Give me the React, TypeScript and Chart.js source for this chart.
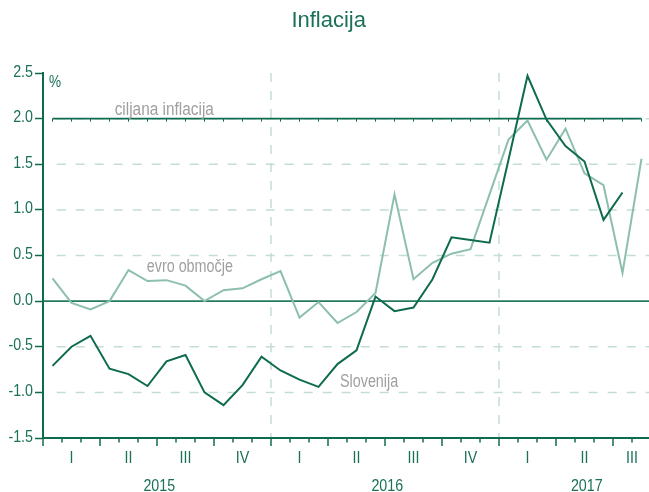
import React, { useEffect, useRef } from "react";
import { Chart, registerables } from "chart.js";

Chart.register(...registerables);

// ---- data ----
const months = [
  "1/15", "2/15", "3/15", "4/15", "5/15", "6/15", "7/15", "8/15", "9/15", "10/15", "11/15", "12/15",
  "1/16", "2/16", "3/16", "4/16", "5/16", "6/16", "7/16", "8/16", "9/16", "10/16", "11/16", "12/16",
  "1/17", "2/17", "3/17", "4/17", "5/17", "6/17", "7/17", "8/17",
];
const slovenia = [
  -0.71, -0.5, -0.38, -0.74, -0.8, -0.93, -0.66, -0.59, -1.0, -1.14, -0.92, -0.61,
  -0.76, -0.86, -0.94, -0.69, -0.54, 0.05, -0.11, -0.07, 0.24, 0.7, 0.67, 0.64,
  1.55, 2.47, 1.99, 1.7, 1.53, 0.89, 1.19, null,
];
const euroArea = [
  0.25, -0.02, -0.09, 0.0, 0.34, 0.22, 0.23, 0.17, 0.0, 0.12, 0.14, 0.24,
  0.33, -0.18, -0.01, -0.24, -0.12, 0.09, 1.17, 0.24, 0.42, 0.52, 0.57, 1.17,
  1.77, 1.98, 1.55, 1.89, 1.4, 1.27, 0.31, 1.56,
];
const targetInflation = 2.0;
const quarterLabels = ["I", "II", "III", "IV", "I", "II", "III", "IV", "I", "II", "III"];
const yearLabels = ["2015", "2016", "2017"];
const yMin = -1.5;
const yMax = 2.5;
const yStep = 0.5;

// ---- style ----
const DARK = "#0e6b4f";
const LIGHT = "#8dbfad";
const GRID = "#c4ddd3";
const TEXT = "#1b7058";
const GRAY = "#9f9f9f";
const SANS = "'Liberation Sans', Arial, sans-serif";
const NARROW_X = 0.84;

function narrowText(
  ctx: CanvasRenderingContext2D,
  text: string,
  x: number,
  y: number,
  align: CanvasTextAlign,
  size: number,
  color: string,
  sx: number = NARROW_X
) {
  ctx.save();
  ctx.translate(x, y);
  ctx.scale(sx, 1);
  ctx.font = `${size}px ${SANS}`;
  ctx.fillStyle = color;
  ctx.textAlign = align;
  ctx.textBaseline = "alphabetic";
  ctx.fillText(text, 0, 0);
  ctx.restore();
}

export default function App() {
  const ref = useRef<HTMLCanvasElement | null>(null);

  useEffect(() => {
    const canvas = ref.current;
    if (!canvas) return;

    // small downward tick used as the point marker of the target line
    const tick = document.createElement("canvas");
    tick.width = 1;
    tick.height = 10;
    const tctx = tick.getContext("2d")!;
    tctx.fillStyle = DARK;
    tctx.fillRect(0, 5, 1, 3);

    const decor = {
      id: "decor",
      beforeDatasetsDraw(chart: any) {
        const { ctx, chartArea, scales } = chart;
        const { left, right, top, bottom } = chartArea;
        const x = scales.x;
        const y = scales.y;
        ctx.save();
        // horizontal dashed grid
        ctx.strokeStyle = GRID;
        ctx.lineWidth = 1.5;
        ctx.setLineDash([9, 10]);
        y.ticks.forEach((t: any) => {
          const v = t.value;
          if (v === yMax || v === yMin || v === 0) return;
          const py = y.getPixelForValue(v);
          ctx.beginPath();
          ctx.moveTo(left + 13.7, py);
          ctx.lineTo(right, py);
          ctx.stroke();
        });
        // year separators
        ctx.setLineDash([9, 9]);
        for (let yi = 1; yi < yearLabels.length; yi++) {
          const px = x.getPixelForValue(yi * 12 - 0.5);
          ctx.beginPath();
          ctx.moveTo(px, top);
          ctx.lineTo(px, bottom);
          ctx.stroke();
        }
        // zero line
        ctx.setLineDash([]);
        ctx.strokeStyle = "#247a5f";
        ctx.lineWidth = 1.6;
        const z = y.getPixelForValue(0);
        ctx.beginPath();
        ctx.moveTo(left, z);
        ctx.lineTo(right, z);
        ctx.stroke();
        ctx.restore();
      },
      afterDraw(chart: any) {
        const { ctx, chartArea, scales } = chart;
        const { left, right, bottom } = chartArea;
        const x = scales.x;
        const y = scales.y;
        const n = months.length;
        ctx.save();
        // x axis line
        ctx.strokeStyle = DARK;
        ctx.lineWidth = 2;
        ctx.beginPath();
        ctx.moveTo(left - 1, bottom);
        ctx.lineTo(right, bottom);
        ctx.stroke();
        // month / quarter ticks
        ctx.lineWidth = 1.5;
        for (let k = 0; k <= n; k++) {
          const px = x.getPixelForValue(k - 0.5);
          const len = k % 3 === 0 ? 8 : 4.5;
          ctx.beginPath();
          ctx.moveTo(px, bottom);
          ctx.lineTo(px, bottom + len);
          ctx.stroke();
        }
        // y tick labels
        y.ticks.forEach((t: any) => {
          const py = y.getPixelForValue(t.value);
          narrowText(ctx, Number(t.value).toFixed(1), left - 10, py + 3.6, "right", 17, TEXT);
        });
        // quarter labels
        quarterLabels.forEach((q, i) => {
          const a = i * 3;
          const b = Math.min(i * 3 + 2, n - 1);
          const c = (a + b) / 2;
          narrowText(ctx, q, x.getPixelForValue(c), bottom + 25, "center", 17, TEXT);
        });
        // year labels
        const fullEnd = Math.ceil(n / 3) * 3 - 1;
        yearLabels.forEach((yr, i) => {
          const a = i * 12;
          const b = Math.min(i * 12 + 11, fullEnd);
          const c = (a + b) / 2 + 0.12;
          narrowText(ctx, yr, x.getPixelForValue(c), bottom + 53, "center", 17, TEXT);
        });
        // title
        ctx.font = `22px ${SANS}`;
        ctx.fillStyle = TEXT;
        ctx.textAlign = "center";
        ctx.textBaseline = "alphabetic";
        ctx.fillText("Inflacija", 328.7, 26.7);
        // annotations
        narrowText(ctx, "%", x.getPixelForValue(-0.18), y.getPixelForValue(2.35), "left", 17, TEXT, 0.8);
        narrowText(ctx, "ciljana inflacija", x.getPixelForValue(3.27), y.getPixelForValue(2.04), "left", 17.5, GRAY, 0.88);
        narrowText(ctx, "evro območje", x.getPixelForValue(4.96), y.getPixelForValue(0.32), "left", 17.5, GRAY, 0.82);
        narrowText(ctx, "Slovenija", x.getPixelForValue(15.13), y.getPixelForValue(-0.94), "left", 17.5, GRAY, 0.82);
        ctx.restore();
      },
    };

    const chart = new Chart(canvas, {
      type: "line",
      data: {
        labels: months,
        datasets: [
          {
            label: "Slovenija",
            data: slovenia,
            borderColor: DARK,
            borderWidth: 2,
            pointRadius: 0,
            tension: 0,
            spanGaps: false,
          },
          {
            label: "evro območje",
            data: euroArea,
            borderColor: LIGHT,
            borderWidth: 2,
            pointRadius: 0,
            tension: 0,
          },
          {
            label: "ciljana inflacija",
            data: months.map(() => targetInflation),
            borderColor: DARK,
            borderWidth: 1.6,
            pointStyle: tick as any,
            pointRadius: 3,
            pointBorderWidth: 0,
            tension: 0,
          },
        ],
      },
      options: {
        responsive: false,
        animation: false,
        events: [],
        layout: { autoPadding: false, padding: { top: 73, bottom: 54, left: 0, right: 0 } },
        plugins: {
          legend: { display: false },
          title: { display: false },
          tooltip: { enabled: false },
        },
        scales: {
          x: {
            type: "category",
            offset: true,
            display: false,
          },
          y: {
            min: yMin,
            max: yMax,
            afterFit: (scale: any) => {
              scale.width = 43;
            },
            ticks: {
              stepSize: yStep,
              display: false,
            },
            grid: {
              drawOnChartArea: false,
              drawTicks: true,
              tickLength: 8,
              tickColor: DARK,
              tickWidth: 1.5,
              color: DARK,
            },
            border: { display: true, color: DARK, width: 2 },
          },
        },
      },
      plugins: [decor],
    });

    return () => chart.destroy();
  }, []);

  return (
    <div
      style={{
        position: "absolute",
        left: 0,
        top: 0,
        width: 649,
        height: 492,
        overflow: "hidden",
        background: "#fff",
      }}
    >
      <canvas ref={ref} width={651} height={492} style={{ width: 651, height: 492, display: "block" }} />
    </div>
  );
}
